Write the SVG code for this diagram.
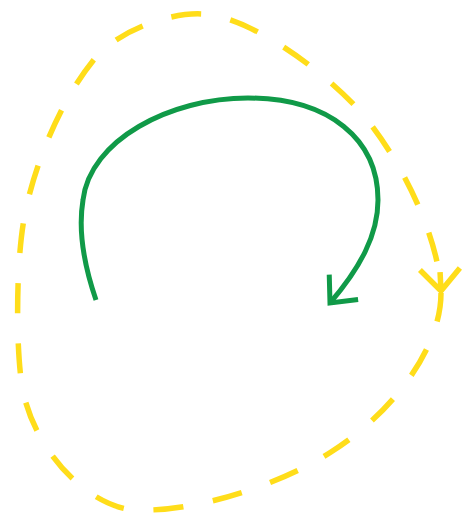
<svg xmlns="http://www.w3.org/2000/svg" width="468" height="514" viewBox="0 0 468 514">
  <style>
    .loop { fill: none; stroke: #FFDD1A; stroke-width: 5.5; stroke-dasharray: 30 30; stroke-dashoffset: 30; }
    .turn { fill: none; stroke: #109A48; stroke-width: 5; }
    .yhead { fill: none; stroke: #FFDD1A; stroke-width: 5.5; stroke-linejoin: miter; }
    .ghead { fill: none; stroke: #109A48; stroke-width: 5; stroke-linejoin: miter; }
  </style>
  <defs>
    <marker id="yArrow" markerUnits="userSpaceOnUse" orient="auto" refX="0" refY="0" markerWidth="60" markerHeight="60" viewBox="-30 -30 60 60" overflow="visible">
      <path class="yhead" d="M22,-20 L0,0 L22,20 M0,0 L19,0"/>
    </marker>
    <marker id="gArrow" markerUnits="userSpaceOnUse" orient="auto" refX="0" refY="0" markerWidth="60" markerHeight="60" viewBox="-30 -30 60 60" overflow="visible">
      <path class="ghead" d="M-21,-19 L0,0 L-21,19"/>
    </marker>
  </defs>
  <g id="connectors">
    <path id="dashed-loop" class="loop" marker-start="url(#yArrow)" d="M441,291 C438,230 395,150 358,109 C320,68 250,17 203,14 C170,12 120,30 96,57 C60,100 33,168 24,219 C15,270 16,364 24,396 C40,460 95,510 138,510 C200,512 285,482 331,452 C390,415 441,350 441,293"/>
    <path id="green-turn" class="turn" marker-end="url(#gArrow)" d="M96,300 C84,265 78,230 83,200 C90,140 170,98 248,98 C330,98 378,140 378,200 C378,235 360,268 330,303"/>
  </g>
</svg>
